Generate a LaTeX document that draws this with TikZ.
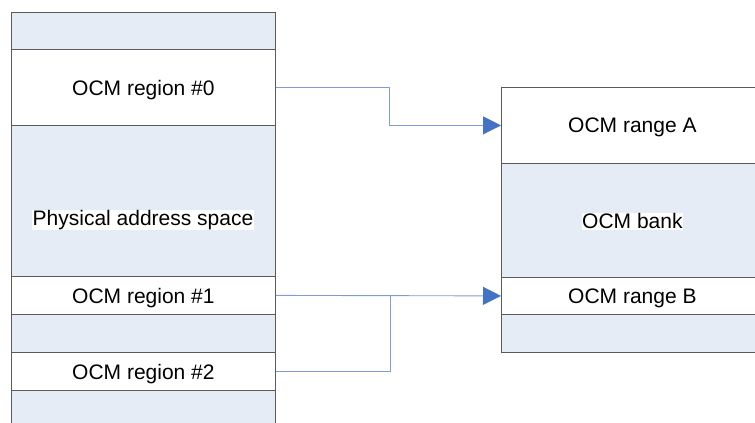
\documentclass[tikz,border=0pt]{standalone}
\usepackage{fontspec}
\setmainfont{Liberation Sans}
\usetikzlibrary{arrows.meta}
\definecolor{cellblue}{HTML}{E6ECF6}
\definecolor{edgegray}{HTML}{5A5A5A}
\definecolor{connblue}{HTML}{7F9ED6}
\definecolor{tipblue}{HTML}{4472C4}
\begin{document}
\begin{tikzpicture}[x=1pt,y=-1pt,
  cell/.style={draw=edgegray,line width=0.8pt,anchor=north west,inner sep=0pt,
    text depth=0pt,font=\fontsize{21}{24}\selectfont},
  bluecell/.style={cell,fill=cellblue},
  whitecell/.style={cell,fill=white},
  lab/.style={fill=white,inner sep=0.5pt,font=\fontsize{21}{24}\selectfont},
  conn/.style={draw=connblue,line width=0.9pt},
  tip/.style={-{Triangle[length=18pt,width=18pt,color=tipblue]}}]
\useasboundingbox (0,0) rectangle (755,423);
% left column
\node[bluecell,minimum width=264pt,minimum height=37pt] (l0) at (11,12) {};
\node[whitecell,minimum width=264pt,minimum height=76pt] (reg0) at (11,49) {OCM region \#0};
\node[bluecell,minimum width=264pt,minimum height=151pt] (phys) at (11,125) {};
\node[lab] (physlab) at (143,220) {Physical address space};
\node[whitecell,minimum width=264pt,minimum height=38pt] (reg1) at (11,276) {OCM region \#1};
\node[bluecell,minimum width=264pt,minimum height=38pt] (l4) at (11,314) {};
\node[whitecell,minimum width=264pt,minimum height=38pt] (reg2) at (11,352) {OCM region \#2};
\node[bluecell,minimum width=264pt,minimum height=50pt] (l6) at (11,390) {};
% right column
\node[whitecell,minimum width=262pt,minimum height=76pt] (rA) at (501,87) {OCM range A};
\node[bluecell,minimum width=262pt,minimum height=114pt] (bank) at (501,163) {};
\node[lab] (banklab) at ([yshift=-1pt]bank.center) {OCM bank};
\node[whitecell,minimum width=262pt,minimum height=37pt] (rB) at (501,277) {OCM range B};
\node[bluecell,minimum width=262pt,minimum height=38pt] (r3) at (501,314) {};
% connectors
\coordinate (k0) at (389,0);
\coordinate (k1) at (390,0);
\draw[conn,tip] (reg0.east) -- (reg0.east -| k0) -- (k0 |- rA.west) -- (rA.west);
\draw[conn,tip] (reg1.east) -- (rB.west);
\draw[conn] (reg2.east) -- (reg2.east -| k1) -- (k1 |- rB.west);
\end{tikzpicture}
\end{document}
